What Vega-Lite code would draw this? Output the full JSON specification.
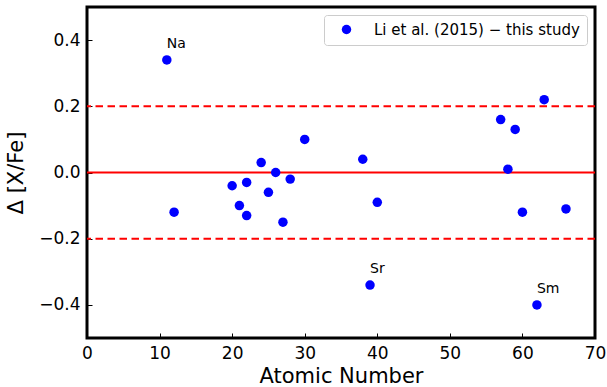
{
  "$schema": "https://vega.github.io/schema/vega-lite/v6.json",
  "width": 508,
  "height": 331,
  "autosize": {"type": "none"},
  "padding": {"left": 87, "top": 7, "right": 12, "bottom": 49},
  "background": "white",
  "config": {
    "view": {"stroke": "black", "strokeWidth": 3},
    "font": "DejaVu Sans",
    "axis": {
      "grid": false,
      "domain": false,
      "tickColor": "black",
      "tickSize": 5,
      "offset": -5,
      "tickWidth": 1,
      "labelFlush": false,
      "labelFont": "DejaVu Sans",
      "labelFontSize": 17,
      "labelColor": "black",
      "titleFont": "DejaVu Sans",
      "titleFontSize": 21,
      "titleFontWeight": "normal",
      "titleColor": "black"
    }
  },
  "datasets": {
    "pts": [
      {"Z": 11, "d": 0.34, "label": "Na", "series": "Li et al. (2015) − this study"},
      {"Z": 12, "d": -0.12, "label": "", "series": "Li et al. (2015) − this study"},
      {"Z": 20, "d": -0.04, "label": "", "series": "Li et al. (2015) − this study"},
      {"Z": 21, "d": -0.10, "label": "", "series": "Li et al. (2015) − this study"},
      {"Z": 22, "d": -0.03, "label": "", "series": "Li et al. (2015) − this study"},
      {"Z": 22, "d": -0.13, "label": "", "series": "Li et al. (2015) − this study"},
      {"Z": 24, "d": 0.03, "label": "", "series": "Li et al. (2015) − this study"},
      {"Z": 25, "d": -0.06, "label": "", "series": "Li et al. (2015) − this study"},
      {"Z": 26, "d": 0.0, "label": "", "series": "Li et al. (2015) − this study"},
      {"Z": 27, "d": -0.15, "label": "", "series": "Li et al. (2015) − this study"},
      {"Z": 28, "d": -0.02, "label": "", "series": "Li et al. (2015) − this study"},
      {"Z": 30, "d": 0.10, "label": "", "series": "Li et al. (2015) − this study"},
      {"Z": 38, "d": 0.04, "label": "", "series": "Li et al. (2015) − this study"},
      {"Z": 39, "d": -0.34, "label": "Sr", "series": "Li et al. (2015) − this study"},
      {"Z": 40, "d": -0.09, "label": "", "series": "Li et al. (2015) − this study"},
      {"Z": 57, "d": 0.16, "label": "", "series": "Li et al. (2015) − this study"},
      {"Z": 58, "d": 0.01, "label": "", "series": "Li et al. (2015) − this study"},
      {"Z": 59, "d": 0.13, "label": "", "series": "Li et al. (2015) − this study"},
      {"Z": 60, "d": -0.12, "label": "", "series": "Li et al. (2015) − this study"},
      {"Z": 62, "d": -0.40, "label": "Sm", "series": "Li et al. (2015) − this study"},
      {"Z": 63, "d": 0.22, "label": "", "series": "Li et al. (2015) − this study"},
      {"Z": 66, "d": -0.11, "label": "", "series": "Li et al. (2015) − this study"}
    ],
    "refs": [
      {"y": 0.2, "kind": "dash"},
      {"y": -0.2, "kind": "dash"},
      {"y": 0.0, "kind": "solid"}
    ]
  },
  "layer": [
    {
      "data": {"name": "refs"},
      "transform": [{"filter": "datum.kind === 'dash'"}],
      "mark": {"type": "rule", "color": "#ff0000", "strokeWidth": 2, "strokeDash": [7.5, 4.5]},
      "encoding": {
        "y": {"field": "y", "type": "quantitative", "scale": {"domain": [-0.5, 0.5]}}
      }
    },
    {
      "data": {"name": "refs"},
      "transform": [{"filter": "datum.kind === 'solid'"}],
      "mark": {"type": "rule", "color": "#ff0000", "strokeWidth": 2},
      "encoding": {
        "y": {"field": "y", "type": "quantitative"}
      }
    },
    {
      "data": {"name": "pts"},
      "mark": {"type": "point", "shape": "circle", "filled": true, "size": 90, "opacity": 1},
      "encoding": {
        "x": {
          "field": "Z", "type": "quantitative",
          "scale": {"domain": [0, 70], "nice": false, "zero": false},
          "axis": {"title": "Atomic Number", "values": [0, 10, 20, 30, 40, 50, 60, 70], "labelPadding": 7, "titlePadding": 4}
        },
        "y": {
          "field": "d", "type": "quantitative",
          "scale": {"domain": [-0.5, 0.5], "nice": false},
          "axis": {"title": "Δ [X/Fe]", "values": [-0.4, -0.2, 0.0, 0.2, 0.4], "format": ".1f", "labelPadding": 7, "titlePadding": 12}
        },
        "color": {
          "field": "series", "type": "nominal",
          "scale": {"range": ["#0000ff"]},
          "legend": {
            "title": null,
            "orient": "top-right",
            "offset": 8,
            "labelFont": "DejaVu Sans",
            "labelFontSize": 15,
            "labelColor": "black",
            "labelLimit": 400,
            "symbolSize": 90,
            "symbolType": "circle",
            "symbolOffset": 8,
            "labelOffset": 20,
            "padding": 7,
            "strokeColor": "#cccccc",
            "fillColor": "white",
            "cornerRadius": 3
          }
        }
      }
    },
    {
      "data": {"name": "pts"},
      "transform": [{"filter": "datum.label !== ''"}],
      "mark": {"type": "text", "align": "left", "baseline": "bottom", "dx": 0, "dy": -9, "fontSize": 14, "font": "DejaVu Sans", "color": "black"},
      "encoding": {
        "x": {"field": "Z", "type": "quantitative"},
        "y": {"field": "d", "type": "quantitative"},
        "text": {"field": "label"}
      }
    }
  ]
}
